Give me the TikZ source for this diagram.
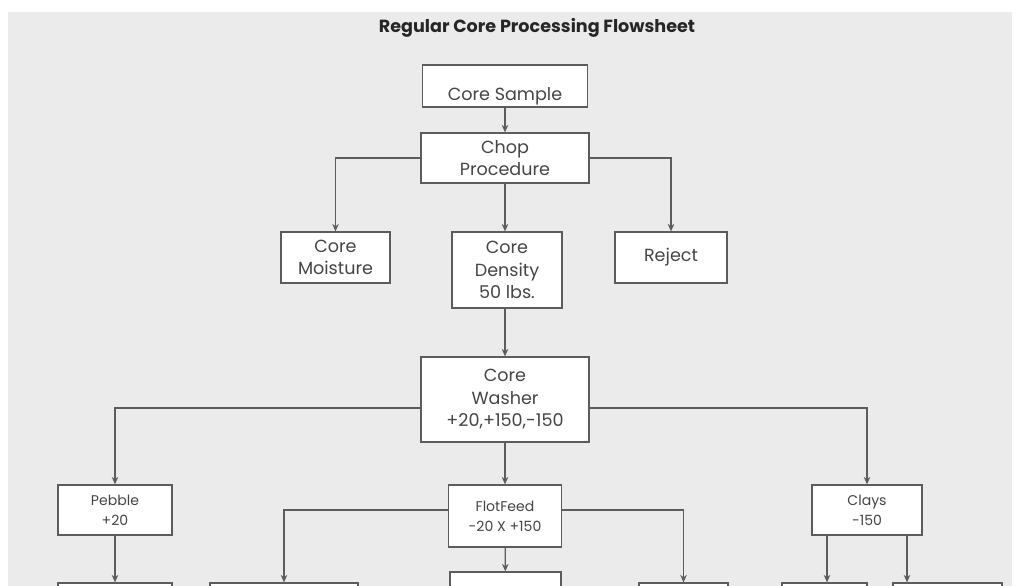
\documentclass[tikz,border=0pt]{standalone}
\usepackage{fontspec}
\setmainfont{Poppins}
\usetikzlibrary{arrows.meta}
\definecolor{sheetbg}{HTML}{EBEBEB}
\definecolor{boxline}{HTML}{5C5C5C}
\definecolor{boxtext}{HTML}{454545}
\begin{document}
\begin{tikzpicture}[x=0.2mm,y=-0.2mm,
  box/.style 2 args={draw=boxline,fill=white,line width=.7pt,minimum width=#1*0.2mm,minimum height=#2*0.2mm,inner sep=1pt,align=center,text=boxtext,font=\fontsize{10}{12.8}\selectfont},
  small/.style={font=\fontsize{8}{11.3}\selectfont},
  feed/.style={draw=boxline,line width=.7pt,-{Stealth[length=1.5mm,width=1.3mm]}}]
\useasboundingbox (0,0) rectangle (1018,585);
\clip (0,0) rectangle (1018,585);
\fill[sheetbg] (8,12) rectangle (1012,600);
\node[font=\bfseries\fontsize{10}{12}\selectfont,text=black!85] (title) at (537,28) {Regular Core Processing Flowsheet};
% upper part
\node[box={165}{42},text height=16pt,text depth=0pt] (sample) at (505,86) {Core Sample};
\node[box={168}{50}] (chop) at (505,158) {Chop\\Procedure};
\node[box={109}{51}] (moist) at (335.5,257.5) {Core\\Moisture};
\node[box={110}{76}] (density) at (507,270) {Core\\Density\\50 lbs.};
\node[box={112}{51}] (reject) at (671,257.5) {Reject};
\node[box={168}{85}] (washer) at (505,399.5) {Core\\Washer\\+20,+150,-150};
% washer products
\node[box={114}{50},small] (pebble) at (115,510) {Pebble\\+20};
\node[box={113}{62},small] (flot) at (505,516) {FlotFeed\\-20 X +150};
\node[box={110}{50},small] (clays) at (867,510) {Clays\\-150};
% cut off at the bottom
\node[box={114}{50}] (pebblenext) at (115,608) {};
\node[box={148}{50}] (flotwest) at (284,608) {};
\node[box={111}{50}] (flotnext) at (505.5,597) {};
\node[box={89}{50}] (floteast) at (683.5,608) {};
\node[box={85}{50}] (claysa) at (824.5,608) {};
\node[box={109}{50}] (claysb) at (947.5,608) {};
% connectors
\draw[feed] (sample) -- (chop);
\draw[feed] (chop.west) -| (moist.north);
\draw[feed] (chop.east) -| (reject.north);
\draw[feed] (chop.south) -- (chop.south |- density.north);
\draw[feed] (washer.north |- density.south) -- (washer.north);
\draw[feed] ([yshift=-1.7mm]washer.west) -| (pebble.north);
\draw[feed] ([yshift=-1.7mm]washer.east) -| (clays.north);
\draw[feed] (washer) -- (flot);
\draw[feed] (pebble) -- (pebblenext);
\draw[feed] ([yshift=1.2mm]flot.west) -| (flotwest.north);
\draw[feed] ([yshift=1.2mm]flot.east) -| (floteast.north);
\draw[feed] (flot) -- (flotnext);
\draw[feed] ([xshift=-8mm]clays.south) -- ([xshift=-8mm]clays.south |- claysa.north);
\draw[feed] ([xshift=8mm]clays.south) -- ([xshift=8mm]clays.south |- claysb.north);
\end{tikzpicture}
\end{document}
